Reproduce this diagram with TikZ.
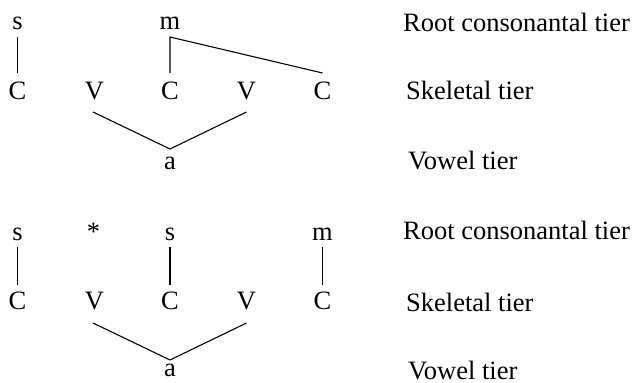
\documentclass[tikz,border=0pt]{standalone}
\usepackage{fontspec}
\setmainfont{Liberation Serif}
\begin{document}
\begin{tikzpicture}[x=1pt,y=1pt,
  seg/.style={inner sep=0pt,anchor=base,font=\fontsize{26.5}{30}\selectfont},
  tierlabel/.style={inner sep=0pt,anchor=base west,font=\fontsize{26.5}{30}\selectfont},
  assoc/.style={line width=1.1pt,line join=miter}]
\useasboundingbox (0,0) rectangle (635,383);

% ---------- upper representation ----------
\node[seg] (s1) at (17.5,353) {s};
\node[seg] (m1) at (170,353) {m};
\node[seg] (c11) at (17.5,283) {C};
\node[seg] (v11) at (94.5,283) {V};
\node[seg] (c12) at (170,283) {C};
\node[seg] (v12) at (246.5,283) {V};
\node[seg] (c13) at (322.5,283) {C};
\node[seg] (a1) at (170,213) {a};

\draw[assoc] ([yshift=-7pt]s1.base) -- ([yshift=27pt]c11.base);
\draw[assoc] ([yshift=27pt]c12.base) -- ([yshift=-7pt]m1.base) -- ([yshift=27pt]c13.base);
\draw[assoc] ([xshift=-1.5pt,yshift=-12pt]v11.base) -- ([yshift=21pt]a1.base) -- ([yshift=-12pt]v12.base);

\node[tierlabel] (r1) at (403,351.5) {Root consonantal tier};
\node[tierlabel] (k1) at (406,283) {Skeletal tier};
\node[tierlabel] (w1) at (408,213) {Vowel tier};

% ---------- lower representation ----------
\node[seg] (s2) at (17.5,142.5) {s};
\node[seg] (st) at (93.5,142.5) {*};
\node[seg] (s3) at (170,142.5) {s};
\node[seg] (m2) at (322.5,142.5) {m};
\node[seg] (c21) at (17.5,73.5) {C};
\node[seg] (v21) at (94.5,73.5) {V};
\node[seg] (c22) at (170,73.5) {C};
\node[seg] (v22) at (246.5,73.5) {V};
\node[seg] (c23) at (322.5,73.5) {C};
\node[seg] (a2) at (170,6.5) {a};

\draw[assoc] ([yshift=-7pt]s2.base) -- ([yshift=24pt]c21.base);
\draw[assoc] ([yshift=-7pt]s3.base) -- ([yshift=24pt]c22.base);
\draw[assoc] ([yshift=-7pt]m2.base) -- ([yshift=24pt]c23.base);
\draw[assoc] ([xshift=-1.5pt,yshift=-13.5pt]v21.base) -- ([yshift=16.5pt]a2.base) -- ([yshift=-13.5pt]v22.base);

\node[tierlabel] (r2) at (403,143) {Root consonantal tier};
\node[tierlabel] (k2) at (406,71.5) {Skeletal tier};
\node[tierlabel] (w2) at (408,3.5) {Vowel tier};
\end{tikzpicture}
\end{document}
